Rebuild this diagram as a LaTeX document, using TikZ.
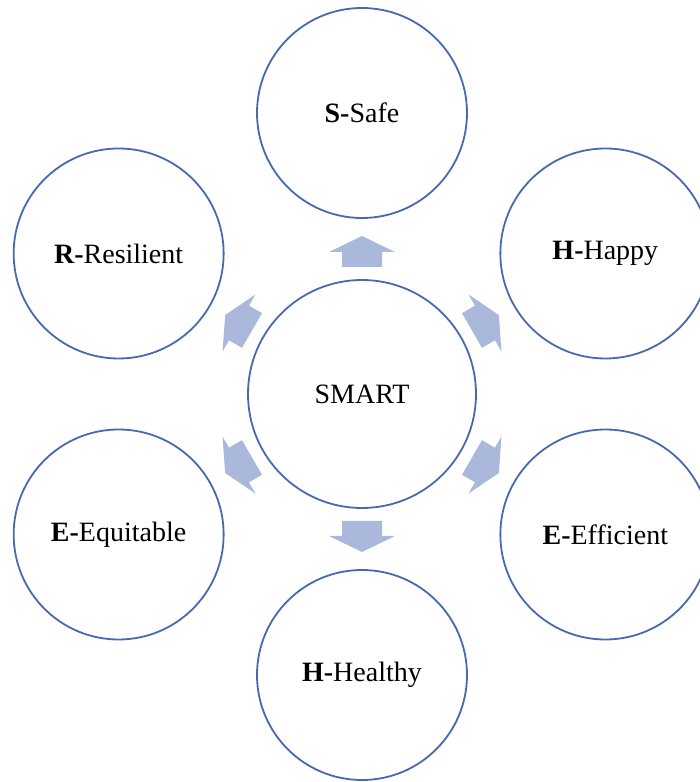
\documentclass[tikz,border=0pt]{standalone}
\usepackage{fontspec}
\setmainfont{Liberation Serif}
\definecolor{circline}{RGB}{72,105,176}
\definecolor{arrfill}{RGB}{170,184,220}
\begin{document}
\begin{tikzpicture}[x=1pt,y=1pt,
  outer/.style={circle,draw=circline,line width=1.8pt,fill=white,minimum size=210pt,inner sep=0pt,
     font=\fontsize{28}{33}\selectfont},
  inner/.style={circle,draw=circline,line width=1.8pt,fill=white,minimum size=228pt,inner sep=0pt,
     font=\fontsize{28}{33}\selectfont},
  blockarrow/.style={fill=arrfill}]
\useasboundingbox (0,0) rectangle (700,782);
\clip (0,0) rectangle (700,782);
\node[inner] (c) at (362,388) {SMART};
\path (362,388) ++(90:281) node[outer] (safe) {\textbf{S-}Safe};
\path (362,388) ++(30:281) node[outer] (happy) {\textbf{H-}Happy};
\path (362,388) ++(-30:281) node[outer] (eff) {\textbf{E-}Efficient};
\path (362,388) ++(-90:281) node[outer] (heal) {\textbf{H-}Healthy};
\path (362,388) ++(-150:281) node[outer] (equi) {\textbf{E-}Equitable};
\path (362,388) ++(150:281) node[outer] (resi) {\textbf{R-}Resilient};
\foreach \a in {90,30,-30,-90,-150,150}{
  \fill[blockarrow,shift={(c.center)},rotate=\a]
    (127,-20) -- (142,-20) -- (142,-33) -- (158,0) -- (142,33) -- (142,20) -- (127,20) -- cycle;
}
\end{tikzpicture}
\end{document}
